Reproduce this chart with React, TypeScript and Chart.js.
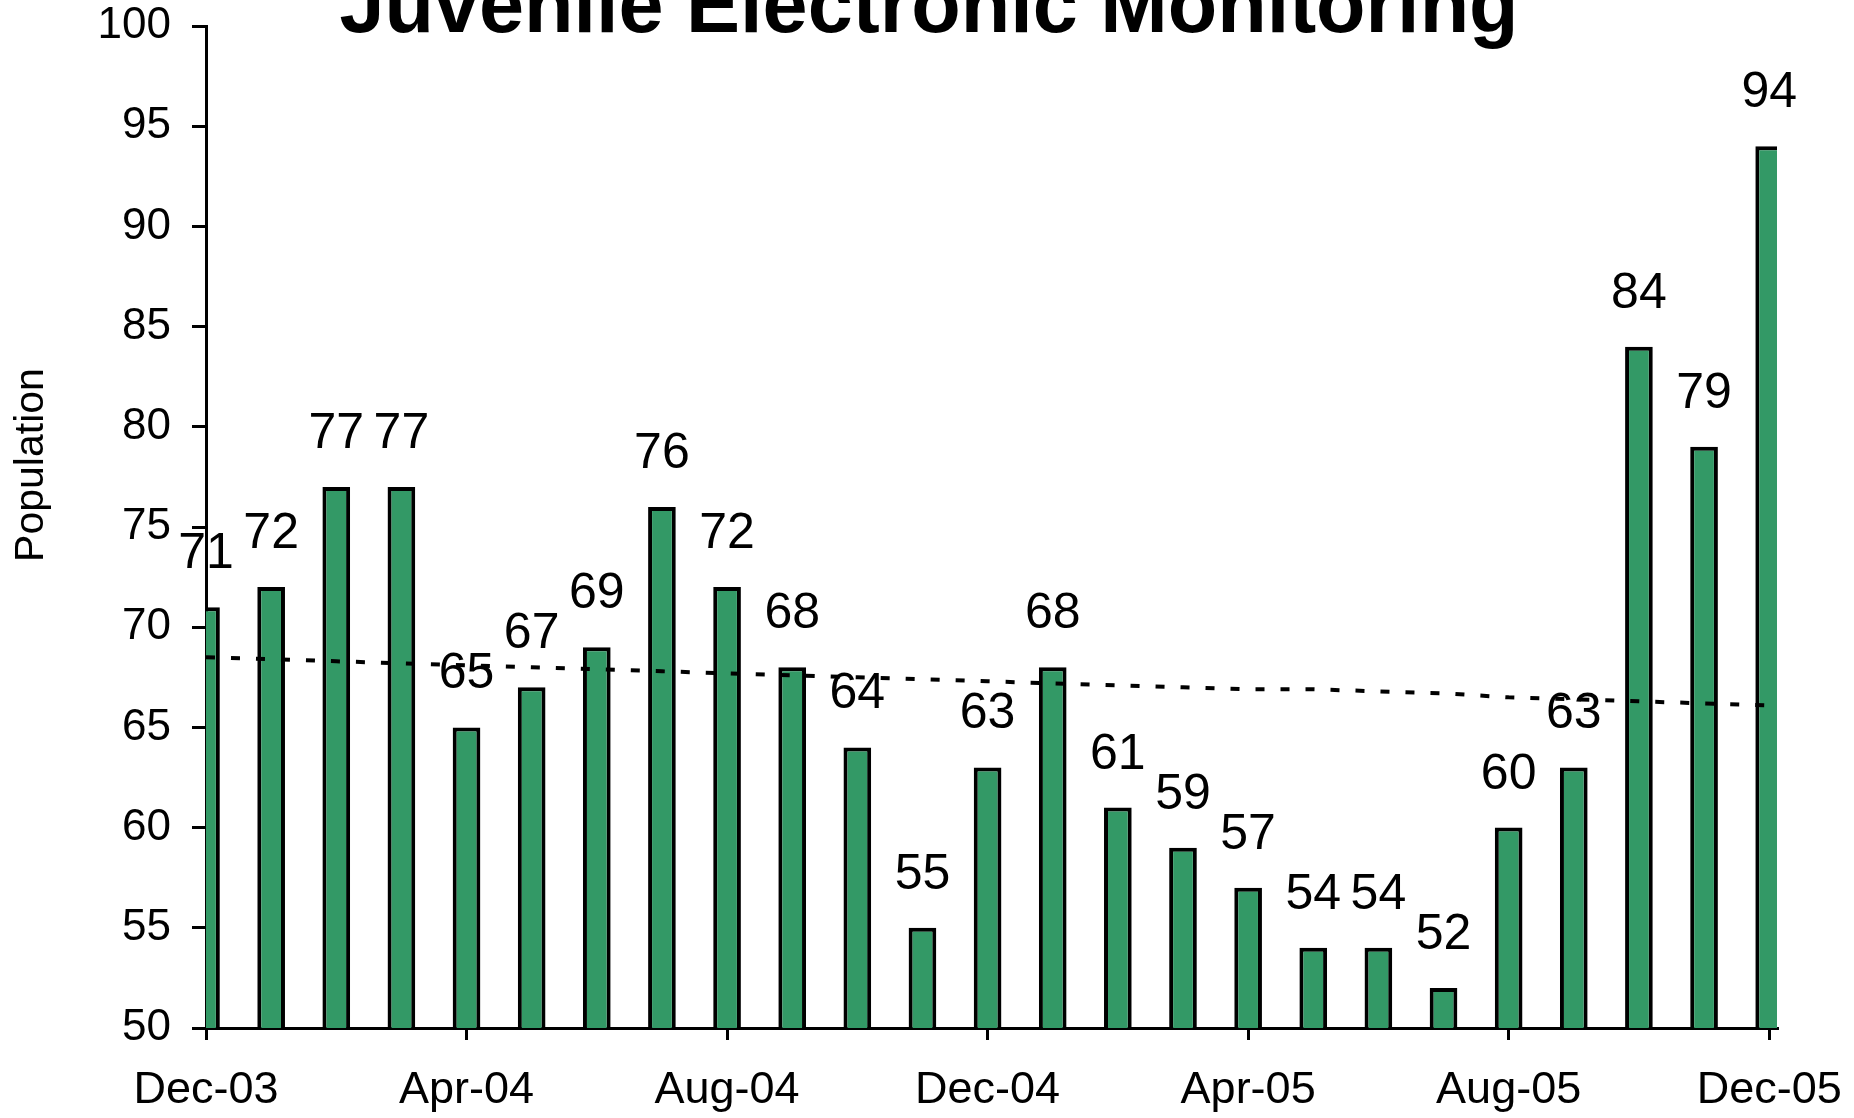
import React, { useEffect, useRef } from "react";
import { Chart, registerables } from "chart.js";

Chart.register(...registerables);

const TITLE = "Juvenile Electronic Monitoring";
const Y_TITLE = "Population";

const MONTHS = [
  "Dec-03", "Jan-04", "Feb-04", "Mar-04", "Apr-04", "May-04", "Jun-04", "Jul-04",
  "Aug-04", "Sep-04", "Oct-04", "Nov-04", "Dec-04", "Jan-05", "Feb-05", "Mar-05",
  "Apr-05", "May-05", "Jun-05", "Jul-05", "Aug-05", "Sep-05", "Oct-05", "Nov-05", "Dec-05",
];

const POPULATION = [
  71, 72, 77, 77, 65, 67, 69, 76, 72, 68, 64, 55, 63, 68, 61, 59, 57, 54, 54, 52, 60, 63, 84, 79, 94,
];

const TREND = [
  68.5, 68.4, 68.3, 68.2, 68.1, 68.0, 67.9, 67.8, 67.7, 67.6, 67.5, 67.4, 67.3,
  67.2, 67.1, 67.0, 66.9, 66.9, 66.8, 66.7, 66.5, 66.4, 66.3, 66.2, 66.1,
];

const Y_TICKS = [50, 55, 60, 65, 70, 75, 80, 85, 90, 95, 100];
const X_TICK_INDEXES = [0, 4, 8, 12, 16, 20, 24];

const FONT = "'Liberation Sans', Arial, sans-serif";

const textPlugin = {
  id: "textPlugin",
  afterDatasetsDraw(chart: any) {
    const ctx = chart.ctx;
    const meta = chart.getDatasetMeta(1);
    ctx.save();
    ctx.fillStyle = "#000";
    ctx.textAlign = "center";
    ctx.textBaseline = "alphabetic";
    ctx.font = `50px ${FONT}`;
    meta.data.forEach((el: any, i: number) => {
      ctx.fillText(String(POPULATION[i]), el.x, el.y - 39);
    });
    ctx.restore();
  },
  afterDraw(chart: any) {
    const ctx = chart.ctx;
    ctx.save();
    ctx.fillStyle = "#000";
    ctx.textAlign = "center";
    ctx.textBaseline = "alphabetic";
    ctx.font = `bold 81px ${FONT}`;
    ctx.fillText(TITLE, 929, 32);
    ctx.translate(43, 465);
    ctx.rotate(-Math.PI / 2);
    ctx.font = `41px ${FONT}`;
    ctx.fillText(Y_TITLE, 0, 0);
    ctx.restore();
  },
};

export default function App() {
  const ref = useRef<HTMLCanvasElement>(null);

  useEffect(() => {
    if (!ref.current) return;
    const chart = new Chart(ref.current, {
      type: "bar",
      data: {
        datasets: [
          {
            type: "line",
            data: TREND.map((v, i) => ({ x: i, y: v })),
            borderColor: "#000",
            borderWidth: 4,
            borderDash: [9, 16],
            pointRadius: 0,
            fill: false,
            tension: 0,
            clip: 0,
            order: 0,
          } as any,
          {
            type: "bar",
            data: POPULATION.map((v, i) => ({ x: i, y: v })),
            backgroundColor: "#339966",
            borderColor: "#000",
            borderWidth: 4,
            categoryPercentage: 1,
            barPercentage: 0.425,
            clip: 0,
            order: 1,
          } as any,
        ],
      },
      options: {
        animation: false,
        responsive: false,
        maintainAspectRatio: false,
        layout: { padding: { top: 26, right: 77, left: 0, bottom: 0 } },
        plugins: { legend: { display: false }, tooltip: { enabled: false } },
        scales: {
          x: {
            type: "linear",
            min: 0,
            max: 24.12,
            offset: false,
            grid: {
              display: true,
              offset: false,
              drawOnChartArea: false,
              drawTicks: true,
              tickLength: 12,
              color: "#000",
              lineWidth: 3,
            },
            border: { display: true, color: "#000", width: 3 },
            ticks: {
              color: "#000",
              font: { family: FONT, size: 45 },
              padding: 24,
              maxRotation: 0,
              autoSkip: false,
              callback: (v: any) => MONTHS[Number(v)] ?? "",
            },
            afterBuildTicks: (s: any) => {
              s.ticks = X_TICK_INDEXES.map((v) => ({ value: v }));
            },
            afterFit: (s: any) => {
              s.height = 90;
              s.paddingLeft = 0;
              s.paddingRight = 0;
            },
          },
          y: {
            type: "linear",
            min: 50,
            max: 100,
            grid: {
              display: true,
              drawOnChartArea: false,
              drawTicks: true,
              tickLength: 14,
              color: "#000",
              lineWidth: 3,
            },
            border: { display: true, color: "#000", width: 3 },
            ticks: {
              color: "#000",
              font: { family: FONT, size: 44 },
              padding: 21,
            },
            afterBuildTicks: (s: any) => {
              s.ticks = Y_TICKS.map((v) => ({ value: v }));
            },
            afterFit: (s: any) => {
              s.width = 206;
              s.paddingTop = 0;
              s.paddingBottom = 0;
            },
          },
        },
      } as any,
      plugins: [textPlugin],
    });
    return () => chart.destroy();
  }, []);

  return (
    <div style={{ position: "absolute", left: 0, top: 0, width: 1854, height: 1118, background: "#fff" }}>
      <canvas ref={ref} width={1854} height={1118} style={{ display: "block" }} />
    </div>
  );
}
